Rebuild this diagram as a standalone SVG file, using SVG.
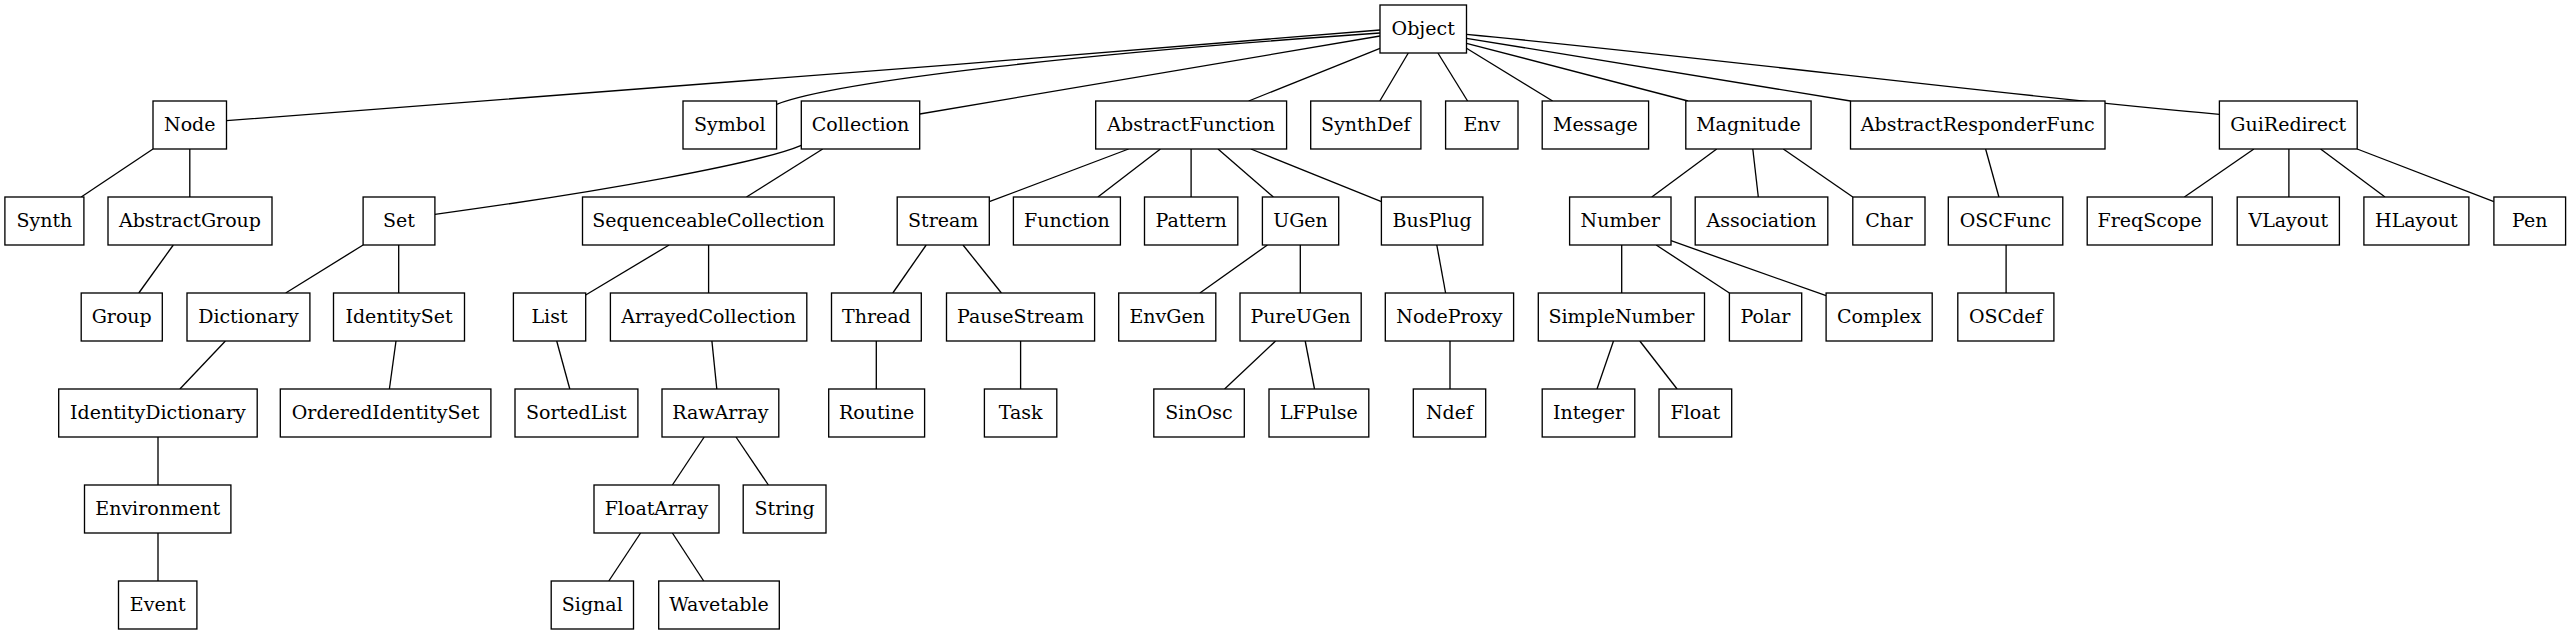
<svg xmlns="http://www.w3.org/2000/svg" width="2571" height="635" viewBox="0 0 2571 635">
<style>
.n rect{fill:#fff;stroke:#000;stroke-width:1.33}
.n text{font-family:"DejaVu Serif",serif;font-size:19px;text-anchor:middle;fill:#000}
#edges path{fill:none;stroke:#000;stroke-width:1.33}
</style>
<rect width="2571" height="635" fill="#fff"/>
<g id="edges">
<path d="M1380,30 C1000,62 500,100 226.5,120.7"/>
<path d="M1380,33 C1100,52 840,80 776.6,104.3"/>
<path d="M1380,36 L919.7,114"/>
<path d="M1380,48.3 L1248.7,101"/>
<path d="M1408.3,53 L1379.8,101"/>
<path d="M1437.9,53 L1467.6,101"/>
<path d="M1466.5,48.3 L1552.6,101"/>
<path d="M1466.5,43.3 L1688,101"/>
<path d="M1466.5,38.3 L1850.5,101"/>
<path d="M1466.5,34.3 C1750,62 2000,95 2219.4,114.3"/>
<path d="M153,149 L81.2,197"/>
<path d="M189.8,149 L189.8,197"/>
<path d="M173.3,245 L138.8,293"/>
<path d="M801.3,145.3 C760,163 600,192 434.9,214.3"/>
<path d="M822.7,149 L746.5,197"/>
<path d="M363.1,245 L285.7,293"/>
<path d="M398.7,245 L398.7,293"/>
<path d="M669.1,245 L585.7,295"/>
<path d="M708.6,245 L708.6,293"/>
<path d="M1128.6,149 L989.3,201.7"/>
<path d="M1160.4,149 L1097.9,197"/>
<path d="M1191.1,149 L1191.1,197"/>
<path d="M1218,149 L1273.4,197"/>
<path d="M1250.9,149 L1381.4,201.7"/>
<path d="M1716.7,149 L1651.8,197"/>
<path d="M1752.8,149 L1758.3,197"/>
<path d="M1783.3,149 L1852.8,197"/>
<path d="M1985.6,149 L1998.9,197"/>
<path d="M2253.9,149 L2184.4,197"/>
<path d="M2288.9,149 L2288.9,197"/>
<path d="M2320.6,149 L2385,197"/>
<path d="M2357.2,149 L2493.9,201.7"/>
<path d="M926.2,245 L892.8,293"/>
<path d="M963,245 L1001.4,293"/>
<path d="M1267.4,245 L1199.9,293"/>
<path d="M1300.3,245 L1300.3,293"/>
<path d="M1436.8,245 L1445.6,293"/>
<path d="M1621.7,245 L1621.7,293"/>
<path d="M1656.2,245 L1729.4,293"/>
<path d="M1671,240.7 L1826.1,295.7"/>
<path d="M2006.1,245 L2006.1,293"/>
<path d="M225.4,341 L179.9,389"/>
<path d="M396,341 L389.4,389"/>
<path d="M556.7,341 L569.8,389"/>
<path d="M711.9,341 L716.8,389"/>
<path d="M876.3,341 L876.3,389"/>
<path d="M1020.6,341 L1020.6,389"/>
<path d="M1275.6,341 L1224.6,389"/>
<path d="M1305.2,341 L1314.5,389"/>
<path d="M1450,341 L1450,389"/>
<path d="M1613.5,341 L1597,389"/>
<path d="M1639.8,341 L1677.1,389"/>
<path d="M158,437 L158,485"/>
<path d="M704.2,437 L672.4,485"/>
<path d="M736,437 L768.4,485"/>
<path d="M158,533 L158,581"/>
<path d="M640.6,533 L608.8,581"/>
<path d="M672.4,533 L703.7,581"/>
</g>
<g id="Object" class="n"><rect x="1380" y="5" width="86.5" height="48"/><text x="1423.2" y="34.7">Object</text></g>
<g id="Node" class="n"><rect x="153" y="101" width="73.5" height="48"/><text x="189.8" y="130.7">Node</text></g>
<g id="Symbol" class="n"><rect x="683" y="101" width="93.6" height="48"/><text x="729.8" y="130.7">Symbol</text></g>
<g id="Collection" class="n"><rect x="801.3" y="101" width="118.4" height="48"/><text x="860.5" y="130.7">Collection</text></g>
<g id="AbstractFunction" class="n"><rect x="1095.7" y="101" width="190.9" height="48"/><text x="1191.1" y="130.7">AbstractFunction</text></g>
<g id="SynthDef" class="n"><rect x="1310.7" y="101" width="110.2" height="48"/><text x="1365.8" y="130.7">SynthDef</text></g>
<g id="Env" class="n"><rect x="1445.6" y="101" width="72.4" height="48"/><text x="1481.8" y="130.7">Env</text></g>
<g id="Message" class="n"><rect x="1542.2" y="101" width="106.4" height="48"/><text x="1595.4" y="130.7">Message</text></g>
<g id="Magnitude" class="n"><rect x="1685.8" y="101" width="125.3" height="48"/><text x="1748.4" y="130.7">Magnitude</text></g>
<g id="AbstractResponderFunc" class="n"><rect x="1850.5" y="101" width="254.5" height="48"/><text x="1977.7" y="130.7">AbstractResponderFunc</text></g>
<g id="GuiRedirect" class="n"><rect x="2219.4" y="101" width="137.8" height="48"/><text x="2288.3" y="130.7">GuiRedirect</text></g>
<g id="Synth" class="n"><rect x="4.9" y="197" width="79" height="48"/><text x="44.4" y="226.7">Synth</text></g>
<g id="AbstractGroup" class="n"><rect x="108" y="197" width="164" height="48"/><text x="190" y="226.7">AbstractGroup</text></g>
<g id="Set" class="n"><rect x="363.1" y="197" width="71.8" height="48"/><text x="399" y="226.7">Set</text></g>
<g id="SequenceableCollection" class="n"><rect x="582.5" y="197" width="251.7" height="48"/><text x="708.3" y="226.7">SequenceableCollection</text></g>
<g id="Stream" class="n"><rect x="897.2" y="197" width="92.1" height="48"/><text x="943.2" y="226.7">Stream</text></g>
<g id="Function" class="n"><rect x="1013.4" y="197" width="107" height="48"/><text x="1066.9" y="226.7">Function</text></g>
<g id="Pattern" class="n"><rect x="1144.5" y="197" width="93.3" height="48"/><text x="1191.1" y="226.7">Pattern</text></g>
<g id="UGen" class="n"><rect x="1262.4" y="197" width="76.3" height="48"/><text x="1300.5" y="226.7">UGen</text></g>
<g id="BusPlug" class="n"><rect x="1381.4" y="197" width="101.5" height="48"/><text x="1432.1" y="226.7">BusPlug</text></g>
<g id="Number" class="n"><rect x="1569.6" y="197" width="101.4" height="48"/><text x="1620.3" y="226.7">Number</text></g>
<g id="Association" class="n"><rect x="1695.2" y="197" width="132.6" height="48"/><text x="1761.5" y="226.7">Association</text></g>
<g id="Char" class="n"><rect x="1852.8" y="197" width="72.2" height="48"/><text x="1888.9" y="226.7">Char</text></g>
<g id="OSCFunc" class="n"><rect x="1948.3" y="197" width="114.5" height="48"/><text x="2005.5" y="226.7">OSCFunc</text></g>
<g id="FreqScope" class="n"><rect x="2087.2" y="197" width="125" height="48"/><text x="2149.7" y="226.7">FreqScope</text></g>
<g id="VLayout" class="n"><rect x="2237.2" y="197" width="102.2" height="48"/><text x="2288.3" y="226.7">VLayout</text></g>
<g id="HLayout" class="n"><rect x="2363.9" y="197" width="105" height="48"/><text x="2416.4" y="226.7">HLayout</text></g>
<g id="Pen" class="n"><rect x="2493.9" y="197" width="71.7" height="48"/><text x="2529.7" y="226.7">Pen</text></g>
<g id="Group" class="n"><rect x="81.2" y="293" width="81.1" height="48"/><text x="121.7" y="322.7">Group</text></g>
<g id="Dictionary" class="n"><rect x="187" y="293" width="122.9" height="48"/><text x="248.4" y="322.7">Dictionary</text></g>
<g id="IdentitySet" class="n"><rect x="333.5" y="293" width="131" height="48"/><text x="399" y="322.7">IdentitySet</text></g>
<g id="List" class="n"><rect x="513.4" y="293" width="72.3" height="48"/><text x="549.5" y="322.7">List</text></g>
<g id="ArrayedCollection" class="n"><rect x="610.4" y="293" width="196.4" height="48"/><text x="708.6" y="322.7">ArrayedCollection</text></g>
<g id="Thread" class="n"><rect x="831.5" y="293" width="89.8" height="48"/><text x="876.4" y="322.7">Thread</text></g>
<g id="PauseStream" class="n"><rect x="946.5" y="293" width="148.1" height="48"/><text x="1020.5" y="322.7">PauseStream</text></g>
<g id="EnvGen" class="n"><rect x="1118.7" y="293" width="97.1" height="48"/><text x="1167.2" y="322.7">EnvGen</text></g>
<g id="PureUGen" class="n"><rect x="1240" y="293" width="121.2" height="48"/><text x="1300.6" y="322.7">PureUGen</text></g>
<g id="NodeProxy" class="n"><rect x="1385.3" y="293" width="128.3" height="48"/><text x="1449.4" y="322.7">NodeProxy</text></g>
<g id="SimpleNumber" class="n"><rect x="1538.3" y="293" width="166.2" height="48"/><text x="1621.4" y="322.7">SimpleNumber</text></g>
<g id="Polar" class="n"><rect x="1729.4" y="293" width="72.3" height="48"/><text x="1765.5" y="322.7">Polar</text></g>
<g id="Complex" class="n"><rect x="1826.1" y="293" width="106.1" height="48"/><text x="1879.1" y="322.7">Complex</text></g>
<g id="OSCdef" class="n"><rect x="1957.8" y="293" width="96.1" height="48"/><text x="2005.8" y="322.7">OSCdef</text></g>
<g id="IdentityDictionary" class="n"><rect x="58.7" y="389" width="198.5" height="48"/><text x="157.9" y="418.7">IdentityDictionary</text></g>
<g id="OrderedIdentitySet" class="n"><rect x="280.3" y="389" width="210.6" height="48"/><text x="385.6" y="418.7">OrderedIdentitySet</text></g>
<g id="SortedList" class="n"><rect x="515" y="389" width="122.9" height="48"/><text x="576.4" y="418.7">SortedList</text></g>
<g id="RawArray" class="n"><rect x="662" y="389" width="116.8" height="48"/><text x="720.4" y="418.7">RawArray</text></g>
<g id="Routine" class="n"><rect x="828.7" y="389" width="95.9" height="48"/><text x="876.6" y="418.7">Routine</text></g>
<g id="Task" class="n"><rect x="984.4" y="389" width="72.4" height="48"/><text x="1020.6" y="418.7">Task</text></g>
<g id="SinOsc" class="n"><rect x="1153.8" y="389" width="90.5" height="48"/><text x="1199" y="418.7">SinOsc</text></g>
<g id="LFPulse" class="n"><rect x="1269" y="389" width="99.8" height="48"/><text x="1318.9" y="418.7">LFPulse</text></g>
<g id="Ndef" class="n"><rect x="1413.3" y="389" width="72.4" height="48"/><text x="1449.5" y="418.7">Ndef</text></g>
<g id="Integer" class="n"><rect x="1542.2" y="389" width="92.6" height="48"/><text x="1588.5" y="418.7">Integer</text></g>
<g id="Float" class="n"><rect x="1659" y="389" width="72.7" height="48"/><text x="1695.3" y="418.7">Float</text></g>
<g id="Environment" class="n"><rect x="84.5" y="485" width="146.4" height="48"/><text x="157.7" y="514.7">Environment</text></g>
<g id="FloatArray" class="n"><rect x="594" y="485" width="125" height="48"/><text x="656.5" y="514.7">FloatArray</text></g>
<g id="String" class="n"><rect x="743.2" y="485" width="82.8" height="48"/><text x="784.6" y="514.7">String</text></g>
<g id="Event" class="n"><rect x="118.5" y="581" width="78.4" height="48"/><text x="157.7" y="610.7">Event</text></g>
<g id="Signal" class="n"><rect x="551.2" y="581" width="82.3" height="48"/><text x="592.3" y="610.7">Signal</text></g>
<g id="Wavetable" class="n"><rect x="658.7" y="581" width="120.6" height="48"/><text x="719" y="610.7">Wavetable</text></g>
</svg>
